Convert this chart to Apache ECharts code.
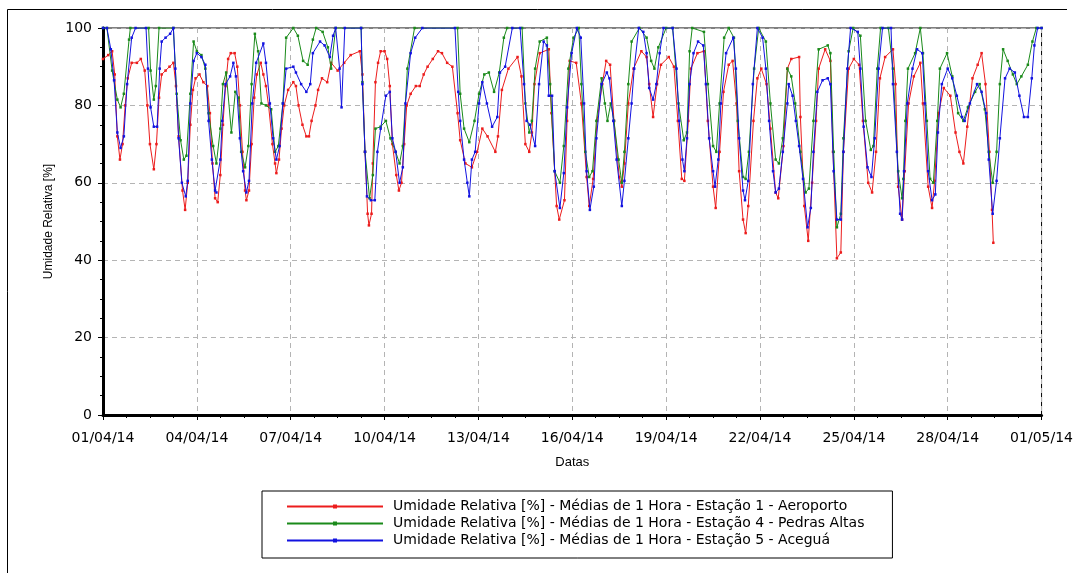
<!DOCTYPE html>
<html>
<head>
<meta charset="utf-8">
<script src="https://cdn.jsdelivr.net/npm/echarts@6/dist/echarts.min.js"></script>
<style>
html,body{margin:0;padding:0;background:#fff;}
#chart{width:1076px;height:573px;}
</style>
</head>
<body>
<div id="chart"></div>
<script>
// Hours since 01/04/14 00:00 and relative humidity [%]
const xTickLabels = ['01/04/14','04/04/14','07/04/14','10/04/14','13/04/14','16/04/14','19/04/14','22/04/14','25/04/14','28/04/14','01/05/14'];
const seriesNames = [
  'Umidade Relativa [%] - Médias de 1 Hora - Estação 1 - Aeroporto',
  'Umidade Relativa [%] - Médias de 1 Hora - Estação 4 - Pedras Altas',
  'Umidade Relativa [%] - Médias de 1 Hora - Estação 5 - Aceguá'
];
const estacao1 = [[0,92],[4,93],[7,94],[9,88],[11,72],[13,66],[15,70],[17,80],[19,87],[22,91],
[26,91],[29,92],[32,89],[34,80],[36,70],[39,63.5],[41,70],[43,82],[45,88],
[48,89],[51,90],[54,91],[56,85],[58,72],[61,58],[63,53],[65,60],[67,75],[69,84],[71,87],
[74,88],[77,86],[80,85],[82,78],[84,65],[86,56],[88,55],[90,62],[92,75],[94,85],[96,92],
[98,93.5],[101,93.5],[103,90],[105,80],[107,68],[109,58],[110,55.5],[112,58],[114,70],[116,82],[118,88],[121,91],[123,88],
[125,85],[127,80],[130,70],[132,65],[133,62.5],[135,66],[137,74],[139,80],[142,84],[146,86],
[148,85],[150,80],[153,75],[156,72],[158,72],[160,76],[163,80],[165,84],[168,87],
[172,86],[175,91],[180,89],[185,91],[190,93],[197,94],
[199,88],[201,68],[203,52],[204,49],[206,52],[207,65],[209,86],[211,91],[213,94],[216,94],[218,92],[220,85],[222,70],[225,62],[227,58],[229,60],[231,70],[233,80],[236,83],[240,85],[243,85],[246,88],[249,90],[253,92],[257,94],[260,93.5],[264,91],[268,90],
[272,78],[274,71],[278,65],[283,64],[287,68],[291,74],[295,72],[301,68],[303,72],[306,84],[311,89.5],[318,92.5],[321,87.5],[324,70],[327,68],[329,73],[331,85.5],[335,93.5],[342,94.5],[344,78],[348,54],[350,50.5],
[354,55.5],[356,76],[358,91.5],[363,91],[367,80.5],[371,61.5],[373,54],[376,61],[379,76],[383,85.5],[386,91.5],[389,90.5],[392,76],[396,61.5],[398,59],[400,65],[403,80.5],[407,89.5],[413,94],[417,92.5],[419,85.5],[422,77],[425,85.5],[428,90.5],[434,92.5],
[438,90],[441,76],[444,61],[446,60.5],[449,76],[451,89.5],[456,93.5],[461,94],[464,76],[468,59],[470,53.5],[473,68],[476,83.5],[480,90.5],[483,91.5],[486,80.5],[488,63],[491,50.5],[493,47],[495,54],[499,76],[502,87],[505,89.5],[509,85.5],[512,74],[516,57.5],[518,56],[522,69.5],[525,89.5],
[528,92],[534,92.5],[535,77],[538,54],[541,45],[544,60],[547,76],[549,89.5],[554,94.5],[558,91.5],[560,68],[563,40.5],[566,42],[568,68],[572,89.5],[576,92],[580,90.5],[583,76],[587,60],[590,57.5],[593,68],[596,87],[600,92.5],[606,94.5],[608,85.5],[610,59],[613,50.5],
[615,63],[618,80.5],[622,87.5],[627,91],[629,80.5],[633,59],[636,53.5],[638,60.5],[641,78],[645,84.5],[650,82.5],[654,73],[657,68],[660,65],[663,74.5],[667,87],[671,90.5],[674,93.5],[677,85.5],[680,68],[682,53],[683,44.5]];

const estacao4 = [[0,100],[3,100],[7,89],[11,81.5],[13.5,79.5],[16,83],[20,97],[21,100],[35,100],[36.5,89],[39,81.5],[40.5,85],[43,100],[54,100],[56.5,83],[59.5,71],[62,66],[64,67],[67,83],[69.5,96.5],[72,94],[75.5,93],[78.5,89.5],[81,78],[84.5,69.5],
[87,65],[90,74],[92,85.5],[94.5,88.5],[98.5,73],[101.5,83.5],[104,82],[106,68],[109,64],[111.5,69.5],[114,85.5],[116.5,98.5],[119,94],[121.5,80.5],[125,80],[129,79],[132,68],[134.5,69.5],[138,80.5],[140.5,97.5],[146,100],[149.5,98],[153.5,91.5],[157,90.5],[161,97],[163.5,100],[168.5,99],[172.5,95],[175,89.5],[178.5,100],[198,100],
[199,86],[201,68],[204.5,56],[207,62],[209,74],[213,74.5],[217,76],[220.5,71.5],[224.5,68],[227.5,65],[230,69.5],[233.5,89.5],[239,100],[272,100],
[274,83],[277,74],[281,70.5],[285,76],[288.5,83],[292.5,88],[296,88.5],[300,83.5],[304,88.5],[307.5,97.5],[310,100],[321.5,100],[324,80.5],[327,73],[329,76],[331.5,89.5],[335,96.5],[340.5,97.5],[343,85.5],[346.5,63],[350.5,60],
[353.5,69.5],[357,89.5],[361,97.5],[365,100],[367,85.5],[370,68],[373,61.5],[375.5,63],[378.5,76],[382.5,87],[385,80.5],[387,76],[389.5,80.5],[392,76],[395.5,66],[398,60],[400,68],[403,85.5],[405.5,96.5],[411.5,100],[417,97.5],[420.5,91.5],[423,89.5],[426,95],[432,100],[437,100],
[441.5,80.5],[445.5,71],[448,73],[450,94],[452,100],[461,99],[464,85.5],[468,69.5],[470.5,68],[473,80.5],[476.5,97.5],[480,100],[484,97.5],[487,76],[491,61.5],[493,61],[495.5,68],[499.5,89.5],[503,100],[508.5,96.5],[512,80.5],[516,66],[518.5,65],[521.5,71.5],[525,89.5],
[528,87.5],[531,80.5],[535,68],[539,57.5],[541.5,58.5],[545,76],[549,94.5],[556,95.5],[558,93.5],[560.5,68],[563,48.5],[566,52],[568,71.5],[572,94],[575.5,100],[581,98],[585,76],[589,68.5],[591,69.5],[594,89.5],[596.5,100],[602.5,100],[606,89.5],[610,63],[613,56],
[614,61],[615.5,76],[617.5,89.5],[623,93.5],[627,100],[629,93.5],[632,76],[634.5,61],[637,60],[640,76],[642,89.5],[647.5,93.5],[651.5,87.5],[656,78],[660,76],[663.5,79.5],[669,83.5],[672.5,85.5],[676.5,79],[679.5,68],[682.5,60],[685.5,68],[688,85.5],[690.5,94.5],[694,91.5],[698,88],[701,85.5],[704.5,87.5],[709.5,90.5],[713,96.5],[716,100],[720,100]];

const estacao5 = [[0,100],[3,100],[6,94.5],[8.5,86.5],[11,73],[13.5,69],[16,72],[18.5,85.5],[22,97.5],[25,100],[33,100],[34.5,89.5],[36.5,79.5],[39,74.5],[41.5,74.5],[43.5,89.5],[45,96.5],[48,97.5],[51.5,98.5],[54,100],[55.5,89.5],[58,71.5],[60.5,60],[63.5,56.5],[65,60.5],[67,80.5],[69.5,91.5],[72,93.5],[75.5,92.5],[78.5,90.5],[81,76],[83.5,66],[86,58],
[87,57.5],[90,66],[91.5,76],[94,85.5],[97.5,87.5],[100,91],[102,87.5],[105,71.5],[107.5,63],[110,57.5],[112,60.5],[114.5,80.5],[117.5,91],[123,96],[125,91],[128,80.5],[130.5,71.5],[133,66],[135.5,69.5],[138,80.5],[140.5,89.5],[146,90],[148,88.5],[152,85.5],[156,83.5],[159,85.5],[161,93.5],[166.5,96.5],[170,95.5],[174,92.5],
[176.5,98],[178.5,100],[181.5,89.5],[183,79.5],[185.5,100],[198,100],[199,85.5],[201,68],[202.5,56.5],[205.5,55.5],[208.5,55.5],[210.5,68],[213,74],[217,82.5],[220,83.5],[222,71.5],[224.5,68],[227.5,60],[230,64],[232,80.5],[236,93.5],[239.5,97.5],[245,100],[270,100],
[272.5,83.5],[274,76],[277,66],[279.5,60],[281,56.5],[283,66],[285.5,68],[288.5,80.5],[291,86],[294.5,80.5],[298.5,74.5],[302.5,77],[304.5,88.5],[308.5,90],[314,100],[320,100],[323,85.5],[325,76],[327.5,75],[331.5,69.5],[334.5,85.5],[338,96.5],[340.5,95.5],[342,82.5],[344.5,82.5],[346.5,63],[350.5,53.5],
[353.5,62.5],[356,79.5],[359.5,93.5],[363.5,100],[366.5,97.5],[369,80.5],[371,63],[373.5,53],[376.5,59],[378.5,71.5],[382.5,85.5],[386.5,88.5],[388.5,87],[391.5,76],[394,66],[398,54],[400,60.5],[403,71.5],[405.5,80.5],[407.5,89.5],[411,100],[414.5,99],[417,93.5],[419,84.5],[422,81.5],[424.5,85.5],[427,93.5],[430,100],[437,100],
[440,89.5],[442,76],[444.5,66],[446,63],[448,71.5],[450,85.5],[453,93.5],[456.5,96.5],[460.5,95.5],[462.5,85.5],[465,71.5],[468,63],[469.5,59],[472,66],[474,80.5],[478,93.5],[483.5,97.5],[485.5,89.5],[488,71.5],[491,58],[492.5,55.5],[495,60.5],[498.5,85.5],[502,100],[506,97.5],[508.5,89.5],[511,76],[514,63],[516,57.5],[518.5,58.5],[521.5,68],[525,80.5],
[526,85.5],[529,82.5],[531.5,76],[534,69.5],[537,61],[540.5,48.5],[543,53.5],[545,68],[548,83.5],[552,86.5],[556,87],[558,85.5],[560.5,63],[563,50.5],[566,50.5],[568,68],[571,89.5],[573.5,100],[579,99],[581,89.5],[583.5,74.5],[586.5,64],[589.5,61.5],[592,71.5],[595,89.5],[598,100],[604.5,100],[606,85.5],[609,68],[611.5,52],
[613,50.5],[614.5,63],[617,80.5],[621,89.5],[624.5,94.5],[628.5,93.5],[630.5,80.5],[633,63],[636,55.5],[638.5,57],[640.5,73],[643.5,85.5],[648,89.5],[651.5,87],[655,82.5],[659,77],[661,76],[665,80.5],[670.5,85.5],[674,83.5],[677.5,78],[679.5,66],[682.5,52],[685.5,60.5],[688,71.5],[692,87],[695.5,89.5],[699.5,88.5],[703,82.5],[706.5,77],[709.5,77],[712.5,87],[714.5,95.5],[717,100],[720,100]];

const colors = ['#ec1c1c', '#1a8a1a', '#1212e0'];
const seriesData = [estacao1, estacao4, estacao5];

const chart = echarts.init(document.getElementById('chart'), null, {renderer: 'canvas'});
const tickFont = 'DejaVu Sans';
chart.setOption({
  animation: false,
  backgroundColor: '#fff',
  graphic: [
    {type: 'line', shape: {x1: 7.5, y1: 9.5, x2: 1067, y2: 9.5}, style: {stroke: '#000', lineWidth: 1}, silent: true},
    {type: 'line', shape: {x1: 7.5, y1: 9.5, x2: 7.5, y2: 573}, style: {stroke: '#000', lineWidth: 1}, silent: true}
  ],
  grid: {left: 103, right: 31, top: 28, bottom: 158, show: true, borderColor: '#000', borderWidth: 1, backgroundColor: '#fff'},
  xAxis: {
    type: 'value', min: 0, max: 720, interval: 72,
    name: 'Datas', nameLocation: 'middle', nameGap: 41,
    nameTextStyle: {fontFamily: 'Liberation Sans', fontSize: 13, color: '#000'},
    axisLine: {show: true, onZero: false, lineStyle: {color: '#000', width: 3}},
    axisTick: {show: true, length: 5, lineStyle: {color: '#000', width: 1}},
    minorTick: {show: true, splitNumber: 4, length: 3, lineStyle: {color: '#000', width: 1}},
    splitLine: {show: true, lineStyle: {color: '#b4b4b4', type: [5, 4], width: 1}},
    axisLabel: {fontFamily: tickFont, fontSize: 14, color: '#000', margin: 16,
      formatter: v => xTickLabels[Math.round(v / 72)] || ''}
  },
  yAxis: {
    type: 'value', min: 0, max: 100, interval: 20,
    name: 'Umidade Relativa [%]', nameLocation: 'middle', nameGap: 46,
    nameTextStyle: {fontFamily: 'Liberation Sans', fontSize: 12, color: '#000'},
    axisLine: {show: true, onZero: false, lineStyle: {color: '#000', width: 3}},
    axisTick: {show: true, length: 5, lineStyle: {color: '#000', width: 1}},
    minorTick: {show: true, splitNumber: 4, length: 3, lineStyle: {color: '#000', width: 1}},
    splitLine: {show: true, lineStyle: {color: '#b4b4b4', type: [5, 4], width: 1}},
    axisLabel: {fontFamily: tickFont, fontSize: 14, color: '#000', margin: 11}
  },
  legend: {
    orient: 'vertical', left: 262, top: 491,
    borderColor: '#000', borderWidth: 1, padding: [8, 28, 10, 24],
    itemWidth: 96, itemHeight: 5, itemGap: 2,
    textStyle: {fontFamily: 'DejaVu Sans', fontSize: 14, lineHeight: 15, color: '#000', padding: [0, 0, 0, 5]},
    data: seriesNames
  },
  series: seriesData.map((d, i) => ({
    name: seriesNames[i], type: 'line', data: d,
    showSymbol: true, symbol: 'rect', symbolSize: 2.5,
    color: colors[i],
    lineStyle: {width: 1, color: colors[i]},
    itemStyle: {color: colors[i]},
    emphasis: {disabled: true},
    z: 2 + i
  }))
});
</script>
</body>
</html>
